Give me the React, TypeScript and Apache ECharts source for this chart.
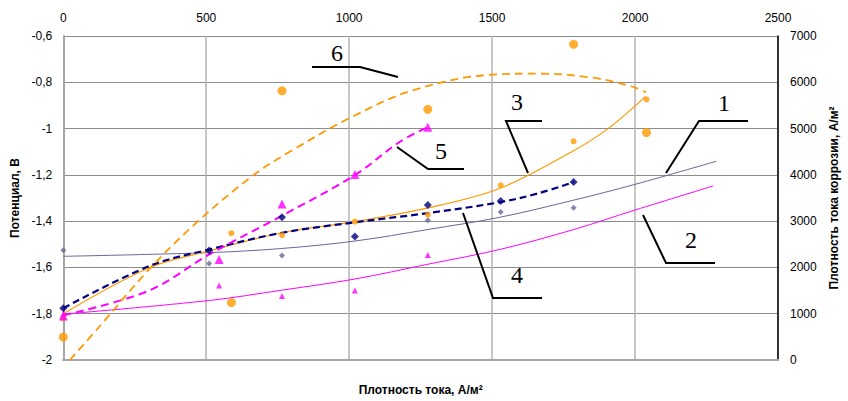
import React, { useEffect, useRef } from "react";
import * as echarts from "echarts";

// ---- measured points (x: current density A/m², y: potential V) ----
const xS1 = [0, 510, 765, 1275, 1530, 1785];
const yS1 = [-1.526, -1.583, -1.548, -1.396, -1.361, -1.342];
const xS2 = [0, 545, 765, 1020, 1275];
const yS2 = [-1.8, -1.678, -1.723, -1.7, -1.546];
const xS3 = [0, 588, 765, 1020, 1275, 1530, 1785, 2040];
const yS3 = [-1.82, -1.452, -1.46, -1.402, -1.372, -1.245, -1.055, -0.874];
const xS4 = [0, 510, 765, 1020, 1275, 1530, 1785];
const yS4 = [-1.776, -1.527, -1.383, -1.466, -1.33, -1.313, -1.231];
const xS5 = [0, 545, 765, 1020, 1275];
const yS5 = [-1.81, -1.566, -1.326, -1.198, -0.994];
// series 6: corrosion current density (right axis, A/m²)
const xS6 = [0, 588, 765, 1275, 1785, 2040];
const yS6 = [495, 1240, 5815, 5415, 6820, 4915];

// ---- trend lines ----
const xT1 = [0, 509, 766, 1020, 1276, 1528, 1786, 2000, 2285];
const yT1 = [-1.552, -1.536, -1.518, -1.486, -1.436, -1.383, -1.309, -1.241, -1.141];
const xT2 = [0, 509, 766, 1020, 1276, 1528, 1786, 2000, 2273];
const yT2 = [-1.802, -1.743, -1.698, -1.65, -1.586, -1.522, -1.436, -1.352, -1.248];
const xT3 = [0, 303, 509, 766, 1020, 1276, 1528, 1786, 1909, 2037];
const yT3 = [-1.8, -1.6, -1.529, -1.45, -1.402, -1.343, -1.258, -1.095, -0.997, -0.861];
const xT4 = [0, 303, 509, 766, 1020, 1276, 1528, 1664, 1786];
const yT4 = [-1.776, -1.593, -1.523, -1.45, -1.405, -1.365, -1.318, -1.279, -1.231];
const xT5 = [0, 300, 509, 767, 1020, 1176, 1275];
const yT5 = [-1.807, -1.7, -1.545, -1.375, -1.201, -1.058, -0.994];
const xT6 = [23, 128, 296, 460, 663, 792, 1001, 1221, 1500, 1664, 1849, 1989, 2038];
const yT6 = [0, 734, 1931, 2936, 3984, 4498, 5225, 5824, 6166, 6187, 6101, 5909, 5781];

// ---- axes ----
const xMin = 0, xMax = 2500, xStep = 500;
const yMin = -2, yMax = -0.6, yStep = 0.2;
const y2Min = 0, y2Max = 7000, y2Step = 1000;

const xTitle = "Плотность тока, А/м²";
const yTitle = "Потенциал, В";
const y2Title = "Плотность тока коррозии, А/м²";

const labels = ["1", "2", "3", "4", "5", "6"];

// callout annotations (pixel layout)
const calloutLayout: { line: number[][]; text: number[] }[] = [
  { line: [[666, 173], [699, 121], [748, 121]], text: [724, 103] },
  { line: [[643, 215], [666, 263], [715, 263]], text: [691, 240] },
  { line: [[528, 173], [506, 121], [542, 121]], text: [517, 102] },
  { line: [[463, 213], [493, 298], [542, 298]], text: [517, 275] },
  { line: [[397, 147], [428, 169], [464, 169]], text: [441, 151] },
  { line: [[312, 67], [360, 67], [398, 77]], text: [337, 53] },
];

const ORANGE = "#FF9900";
const MAGENTA = "#FF00FF";
const NAVY = "#000080";
const SLATE = "#666699";

const zip = (xs: number[], ys: number[]) => xs.map((x, i) => [x, ys[i]]);

export default function App() {
  const ref = useRef<HTMLDivElement>(null);
  useEffect(() => {
    if (!ref.current) return;
    const chart = echarts.init(ref.current, null, { renderer: "svg" });
    const font = "Liberation Sans, Arial, sans-serif";
    const trend = (xs: number[], ys: number[], color: string, width: number, type: any, yAxisIndex = 0) => ({
      type: "line",
      data: zip(xs, ys),
      yAxisIndex,
      smooth: 0.35,
      showSymbol: false,
      symbol: "none",
      lineStyle: { color, width, type },
      silent: true,
      z: 3,
    });
    const scatter = (xs: number[], ys: number[], color: string, symbol: string, size: number, yAxisIndex = 0) => ({
      type: "scatter",
      data: zip(xs, ys),
      yAxisIndex,
      symbol,
      symbolSize: size,
      itemStyle: { color },
      z: 4,
    });
    const graphics: any[] = [];
    calloutLayout.forEach((c, i) => {
      graphics.push({
        type: "polyline",
        shape: { points: c.line },
        style: { stroke: "#000", lineWidth: 2, fill: null },
        z: 10,
      });
      graphics.push({
        type: "text",
        x: c.text[0],
        y: c.text[1],
        style: {
          text: labels[i],
          font: "24px 'Liberation Serif', 'Times New Roman', serif",
          fill: "#000",
          align: "center",
          verticalAlign: "middle",
          textAlign: "center",
          textVerticalAlign: "middle",
        },
        z: 10,
      });
    });
    const plain = (v: number) => String(Math.round(v));
    chart.setOption({
      animation: false,
      backgroundColor: "#fff",
      grid: { left: 63.3, top: 36, width: 715.2, height: 327.3, containLabel: false },
      xAxis: [
        {
          type: "value",
          position: "top",
          min: xMin,
          max: xMax,
          interval: xStep,
          axisLine: { show: true, lineStyle: { color: "#A6A6A6", width: 2 } },
          axisTick: { show: false },
          axisLabel: { color: "#000", fontSize: 12, fontFamily: font, margin: 12, formatter: plain },
          splitLine: { show: true, lineStyle: { color: "#B4B4B4", width: 1.5 } },
        },
        {
          type: "value",
          position: "bottom",
          min: xMin,
          max: xMax,
          interval: xStep,
          axisLine: { show: true, onZero: false, lineStyle: { color: "#A6A6A6", width: 2 } },
          axisTick: { show: false },
          axisLabel: { show: false },
          splitLine: { show: false },
          name: xTitle,
          nameLocation: "middle",
          nameGap: 24,
          nameTextStyle: { color: "#000", fontSize: 12, fontWeight: "bold", fontFamily: font },
        },
      ],
      yAxis: [
        {
          type: "value",
          position: "left",
          min: yMin,
          max: yMax,
          interval: yStep,
          axisLine: { show: true, onZero: false, lineStyle: { color: "#A6A6A6", width: 2 } },
          axisTick: { show: false },
          axisLabel: {
            color: "#000",
            fontSize: 12,
            fontFamily: font,
            margin: 11,
            formatter: (v: number) => String(Math.round(v * 10) / 10).replace(".", ","),
          },
          splitLine: { show: true, lineStyle: { color: "#8C8C8C", width: 1 } },
          name: yTitle,
          nameLocation: "middle",
          nameGap: 31,
          nameRotate: 90,
          nameTextStyle: { color: "#000", fontSize: 12, fontWeight: "bold", fontFamily: font },
        },
        {
          type: "value",
          position: "right",
          min: y2Min,
          max: y2Max,
          interval: y2Step,
          axisLine: { show: true, onZero: false, lineStyle: { color: "#000", width: 1.5 } },
          axisTick: { show: false },
          axisLabel: { color: "#000", fontSize: 12, fontFamily: font, margin: 12, formatter: plain },
          splitLine: { show: false },
          name: y2Title,
          nameLocation: "middle",
          nameGap: 50,
          nameRotate: 90,
          nameTextStyle: { color: "#000", fontSize: 12, fontWeight: "bold", fontFamily: font },
        },
      ],
      series: [
        trend(xT1, yT1, SLATE, 1, "solid"),
        trend(xT2, yT2, MAGENTA, 1, "solid"),
        trend(xT3, yT3, ORANGE, 1.2, "solid"),
        trend(xT4, yT4, NAVY, 2.2, [7, 4]),
        trend(xT5, yT5, MAGENTA, 2, [8, 5]),
        trend(xT6, yT6, ORANGE, 1.8, [8, 5], 1),
        scatter(xS1, yS1, SLATE, "diamond", 6),
        scatter(xS2, yS2, MAGENTA, "triangle", 6),
        scatter(xS3, yS3, ORANGE, "circle", 6),
        scatter(xS4, yS4, NAVY, "diamond", 8),
        scatter(xS5, yS5, MAGENTA, "triangle", 9),
        scatter(xS6, yS6, ORANGE, "circle", 9, 1),
      ],
      graphic: graphics,
    });
    return () => chart.dispose();
  }, []);
  return <div ref={ref} style={{ position: "absolute", left: 0, top: 0, width: 848, height: 401 }} />;
}
